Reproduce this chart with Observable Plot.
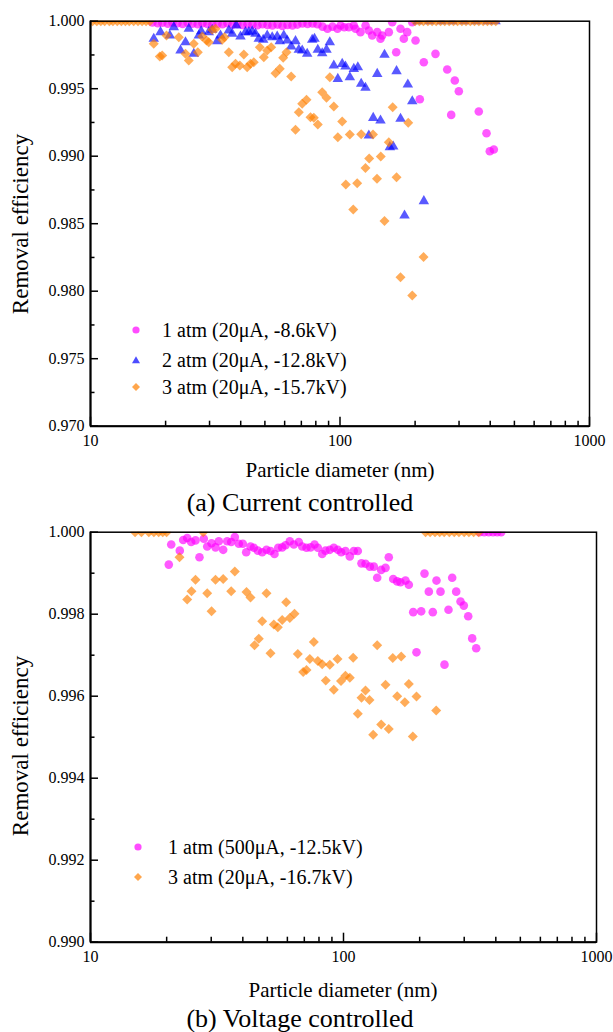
<!DOCTYPE html>
<html><head><meta charset="utf-8">
<script src="https://cdn.jsdelivr.net/npm/d3@7"></script>
<script src="https://cdn.jsdelivr.net/npm/@observablehq/plot@0.6"></script>
<style>
body{margin:0;background:#fff;font-family:'Liberation Serif','Tinos','Times New Roman','DejaVu Serif',serif;color:#000}
#wrap{position:relative;width:613px;height:1032px;overflow:hidden;background:#fff}
#wrap, #wrap *{font-family:'Liberation Serif','Tinos','Times New Roman','DejaVu Serif',serif}
.abs{position:absolute;white-space:nowrap;line-height:1}
.c{transform:translate(-50%,-50%)}
.rot{transform:translate(-50%,-50%) rotate(-90deg)}
.leg{position:absolute;white-space:nowrap;line-height:1;font-size:20px;transform:translateY(-50%)}
.mk{position:absolute;transform:translate(-50%,-50%)}
</style></head><body><div id="wrap"></div>
<script>
// ---------- tick values ----------
const xMajor = [10, 100, 1000];
const xMinor = [20,30,40,50,60,70,80,90,200,300,400,500,600,700,800,900];
const yMajorA = [0.970,0.975,0.980,0.985,0.990,0.995,1.000];
const yMinorA = [0.9725,0.9775,0.9825,0.9875,0.9925,0.9975];
const yMajorB = [0.990,0.992,0.994,0.996,0.998,1.000];
const yMinorB = [0.991,0.993,0.995,0.997,0.999];

// ---------- labels ----------
const legendA = ["1 atm (20μA, -8.6kV)", "2 atm (20μA, -12.8kV)", "3 atm (20μA, -15.7kV)"];
const legendB = ["1 atm (500μA, -12.5kV)", "3 atm (20μA, -16.7kV)"];
const xTitle = "Particle diameter (nm)";
const yTitle = "Removal efficiency";
const captionA = "(a) Current controlled";
const captionB = "(b) Voltage controlled";

// ---------- data: [diameter nm, removal efficiency] ----------
const a1atm = [[17.7,0.99990],[18.6,0.99985],[19.4,0.99988],[20.4,0.99982],[21.3,0.99990],[22.3,0.99985],[23.4,0.99980],[24.5,0.99988],[25.6,0.99982],[26.9,0.99978],[28.1,0.99985],[29.4,0.99980],[30.8,0.99975],[32.3,0.99982],[33.8,0.99978],[35.4,0.99985],[37.1,0.99975],[38.8,0.99980],[40.7,0.99972],[42.6,0.99978],[44.6,0.99975],[46.7,0.99970],[48.9,0.99978],[51.2,0.99972],[53.6,0.99968],[56.2,0.99975],[58.8,0.99965],[61.6,0.99972],[64.5,0.99968],[67.5,0.99975],[70.7,0.99983],[74.1,0.99980],[77.6,0.99983],[81.2,0.99978],[85.1,0.99960],[89.1,0.99944],[93.3,0.99960],[97.7,0.99944],[100.5,0.99968],[104.0,0.99955],[108.5,0.99956],[113.6,0.99968],[115.4,0.99944],[120.8,0.99919],[126.6,0.99968],[130.5,0.99931],[134.6,0.99894],[141.0,0.99919],[145.3,0.99870],[147.6,0.99894],[156.9,0.99919],[161.9,0.99993],[168.0,0.99770],[174.8,0.99944],[180.2,0.99870],[185.9,0.99919],[194.8,0.99993],[200.8,0.99857],[208.9,0.99422],[216.7,0.99696],[241.4,0.99758],[269.0,0.99642],[279.1,0.99306],[288.5,0.99561],[299.4,0.99481],[360.0,0.99331],[386.6,0.99170],[398.5,0.99037],[413.5,0.99050]];

const a2atm = [[17.93,0.99870],[19.08,0.99919],[20.79,0.99894],[21.57,0.99956],[22.95,0.99783],[24.03,0.99844],[24.77,0.99944],[25.94,0.99759],[27.18,0.99894],[27.78,0.99926],[29.79,0.99919],[30.75,0.99936],[32.20,0.99852],[33.19,0.99894],[35.84,0.99931],[36.98,0.99907],[38.37,0.99968],[39.92,0.99887],[41.80,0.99919],[43.10,0.99919],[44.47,0.99926],[45.85,0.99907],[47.26,0.99870],[49.22,0.99862],[51.08,0.99894],[53.49,0.99881],[56.01,0.99887],[57.37,0.99852],[59.53,0.99894],[61.43,0.99857],[63.74,0.99813],[66.31,0.99852],[68.37,0.99788],[70.55,0.99783],[73.87,0.99759],[77.37,0.99862],[79.03,0.99870],[81.47,0.99788],[84.86,0.99763],[88.28,0.99788],[91.02,0.99844],[94.45,0.99672],[98.0,0.99573],[102.05,0.99684],[105.2,0.99664],[109.5,0.99585],[113.6,0.99647],[117.9,0.99659],[121.6,0.99536],[126.5,0.99507],[130.5,0.99153],[135.9,0.99284],[141.0,0.99610],[145.3,0.99264],[150.8,0.99751],[158.4,0.99067],[163.4,0.99072],[168.5,0.99630],[174.8,0.99277],[181.4,0.98561],[187.0,0.99531],[194.8,0.99407],[216.8,0.98667],[205,1],[228,1],[255,1],[282,1],[315,1],[350,1],[390,1],[420,1]];

const a3atm = [[10.2,1],[10.6,1],[11.0,1],[11.4,1],[11.9,1],[12.3,1],[12.8,1],[13.3,1],[13.8,1],[14.3,1],[14.9,1],[15.5,1],[16.1,1],[16.7,1],[17.3,1],[17.93,0.99833],[18.96,0.99739],[19.38,0.99746],[20.17,0.99894],[22.59,0.99881],[24.03,0.99759],[24.77,0.99709],[25.94,0.99833],[26.92,0.99770],[28.04,0.99887],[29.17,0.99857],[29.79,0.99844],[30.75,0.99936],[31.70,0.99944],[33.72,0.99862],[34.44,0.99881],[35.84,0.99770],[36.98,0.99659],[38.13,0.99684],[39.67,0.99672],[41.16,0.99753],[42.47,0.99659],[43.78,0.99684],[45.13,0.99696],[47.71,0.99807],[49.50,0.99733],[51.08,0.99783],[52.99,0.99807],[55.15,0.99615],[57.37,0.99647],[59.20,0.99729],[61.04,0.99770],[63.74,0.99590],[66.31,0.99196],[68.37,0.99326],[70.55,0.99388],[73.40,0.99418],[76.18,0.99289],[78.52,0.99284],[81.47,0.99235],[84.86,0.99474],[88.28,0.99433],[91.02,0.99585],[94.45,0.99368],[98.0,0.99141],[102.05,0.99257],[105.5,0.98790],[109.5,0.99161],[113.0,0.98605],[117.2,0.98800],[121.6,0.99163],[126.5,0.98913],[130.9,0.98983],[135.6,0.99161],[140.7,0.98833],[145.7,0.98998],[150.8,0.98520],[156.9,0.99104],[162.6,0.99363],[168.5,0.98844],[174.8,0.98104],[187.7,0.99247],[194.8,0.97968],[216.2,0.98253],[200,1],[208,1],[216,1],[225,1],[234,1],[243,1],[253,1],[263,1],[274,1],[285,1],[296,1],[308,1],[320,1],[333,1],[346,1],[360,1],[375,1],[390,1],[405,1],[421,1]];

const b1atm = [[20.39,0.99921],[20.85,0.99970],[22.54,0.99955],[23.25,0.99981],[24.11,0.99986],[25.00,0.99976],[26.00,0.99980],[26.96,0.99939],[28.04,0.99984],[28.93,0.99965],[30.09,0.99973],[31.20,0.99963],[32.15,0.99978],[33.46,0.99957],[34.70,0.99978],[35.99,0.99976],[37.19,0.99988],[38.57,0.99972],[40.00,0.99972],[41.25,0.99951],[42.90,0.99965],[44.21,0.99962],[45.85,0.99955],[47.72,0.99951],[49.62,0.99957],[51.46,0.99954],[53.37,0.99947],[55.20,0.99962],[57.24,0.99963],[59.00,0.99968],[61.34,0.99978],[63.63,0.99970],[66.58,0.99976],[68.68,0.99965],[71.42,0.99962],[74.07,0.99963],[76.81,0.99970],[79.15,0.99962],[82.38,0.99947],[84.90,0.99955],[88.27,0.99957],[91.55,0.99962],[94.94,0.99957],[97.93,0.99951],[101.8,0.99954],[105.9,0.99941],[109.8,0.99954],[113.9,0.99954],[117.8,0.99924],[122.2,0.99923],[127.1,0.99916],[131.8,0.99916],[135.9,0.99889],[140.9,0.99908],[146.6,0.99913],[151.0,0.99939],[157.2,0.99886],[163.0,0.99880],[168.0,0.99878],[175.8,0.99882],[181.2,0.99872],[188.6,0.99805],[194.3,0.99707],[202.8,0.99807],[209.0,0.99899],[217.4,0.99855],[225.4,0.99805],[233.1,0.99882],[241.8,0.99855],[250.7,0.99677],[260.0,0.99811],[268.9,0.99889],[278.9,0.99855],[290.1,0.99831],[298.9,0.99821],[311.1,0.99795],[322.6,0.99741],[334.6,0.99717],[345,1],[360,1],[375,1],[390,1],[405,1],[420,1]];

const b3atm = [[15.0,1],[15.9,1],[17.0,1],[17.8,1],[18.6,1],[19.3,1],[20.0,1],[27.9,1],[22.48,0.99939],[24.11,0.99836],[25.07,0.99856],[26.00,0.99884],[28.93,0.99851],[30.09,0.99807],[31.20,0.99884],[33.46,0.99886],[35.99,0.99856],[37.19,0.99904],[41.37,0.99854],[42.90,0.99841],[44.48,0.99724],[46.26,0.99740],[47.72,0.99783],[49.62,0.99851],[51.46,0.99705],[53.03,0.99775],[55.00,0.99768],[57.24,0.99786],[59.37,0.99829],[61.34,0.99791],[64.02,0.99801],[65.98,0.99703],[69.30,0.99659],[71.42,0.99664],[73.60,0.99691],[76.32,0.99732],[79.15,0.99686],[82.38,0.99678],[85.11,0.99638],[88.27,0.99677],[91.55,0.99616],[94.68,0.99691],[97.75,0.99637],[101.8,0.99650],[105.9,0.99645],[109.2,0.99694],[113.9,0.99557],[117.8,0.99596],[122.2,0.99614],[126.7,0.99591],[131.0,0.99506],[135.9,0.99724],[140.9,0.99531],[146.6,0.99628],[151.0,0.99520],[156.6,0.99693],[163.0,0.99600],[169.1,0.99697],[174.7,0.99585],[181.2,0.99630],[187.9,0.99502],[194.3,0.99599],[232.5,0.99565],[211,1],[220,1],[230,1],[240,1],[250,1],[262,1],[274,1],[286,1],[300,1],[313,1],[327,1],[342,1]];

// ---------- styles ----------
const FONT = "'Liberation Serif','Tinos','Times New Roman','DejaVu Serif',serif";
const MAGENTA = "#ff00ff", BLUE = "#0000ff", ORANGE = "#ff8000";
const OPA = 0.65;

function panel(o) {
  const fmt = d3.format(".3f");
  const marks = [];
  for (const s of o.series) {
    marks.push(Plot.dot(s.data, {x: d => d[0], y: d => d[1], symbol: s.symbol, r: s.r,
      fill: s.color, fillOpacity: OPA, stroke: "none", clip: true}));
  }
  marks.push(
    Plot.frame({stroke: "#000", strokeWidth: 1.5}),
    Plot.ruleX([10], {stroke: "#000", strokeWidth: 2}),
    Plot.ruleY([o.yDomain[0]], {stroke: "#000", strokeWidth: 2}),
    Plot.axisY({ticks: o.yMajor, tickSize: -8, tickFormat: () => "", label: null, strokeWidth: 1.5}),
    Plot.axisY({ticks: o.yMinor, tickSize: -4.5, tickFormat: () => "", label: null, strokeWidth: 1.5}),
    Plot.axisY({ticks: o.yMajor, tickSize: 0, tickPadding: 6, tickFormat: fmt, label: null, fontSize: 16, fontFamily: FONT}),
    Plot.axisX({ticks: xMajor, tickSize: -9, tickFormat: () => "", label: null, strokeWidth: 1.5}),
    Plot.axisX({ticks: xMinor, tickSize: -5, tickFormat: () => "", label: null, strokeWidth: 1.5}),
    Plot.axisX({ticks: xMajor, tickSize: 0, tickPadding: 8, tickFormat: d => String(d), label: null, fontSize: 16, fontFamily: FONT})
  );
  return Plot.plot({
    width: 613, height: o.height,
    marginTop: o.mt, marginBottom: o.mb, marginLeft: 90, marginRight: o.mr,
    style: {fontFamily: FONT, fontSize: "16px", color: "#000", background: "transparent", overflow: "visible"},
    x: {type: "log", domain: [10, 1000]},
    y: {domain: o.yDomain},
    marks
  });
}

const wrap = document.getElementById("wrap");
function place(el, top) { el.style.position = "absolute"; el.style.left = "0px"; el.style.top = top + "px"; wrap.appendChild(el); }

const svgA = panel({height: 484, mt: 20.7, mb: 58.3, mr: 24, yDomain: [0.970, 1.000], yMajor: yMajorA, yMinor: yMinorA,
  series: [
    {data: a1atm, symbol: "circle", r: 4.3, color: MAGENTA},
    {data: a2atm, symbol: "triangle", r: 3.9, color: BLUE},
    {data: a3atm, symbol: "diamond2", r: 4.5, color: ORANGE}
  ]});
place(svgA, 0);

const svgB = panel({height: 486, mt: 17.7, mb: 58.3, mr: 17, yDomain: [0.990, 1.000], yMajor: yMajorB, yMinor: yMinorB,
  series: [
    {data: b1atm, symbol: "circle", r: 4.3, color: MAGENTA},
    {data: b3atm, symbol: "diamond2", r: 4.5, color: ORANGE}
  ]});
place(svgB, 514);

function addText(txt, x, y, size, cls) {
  const d = document.createElement("div");
  d.className = "abs " + cls;
  d.style.left = x + "px"; d.style.top = y + "px"; d.style.fontSize = size + "px";
  d.textContent = txt;
  wrap.appendChild(d);
}
addText(yTitle, 20, 224, 23, "rot");
addText(xTitle, 340, 470, 21, "c");
addText(captionA, 300, 503, 26, "c");
addText(yTitle, 20, 746, 23, "rot");
addText(xTitle, 343, 990, 21, "c");
addText(captionB, 300, 1019, 26, "c");

const shapes = {
  circle: c => `<circle cx="6" cy="6" r="3.6" fill="${c}" fill-opacity="0.7"/>`,
  triangle: c => `<path d="M6,2.2L10,9.2L2,9.2Z" fill="${c}" fill-opacity="0.7"/>`,
  diamond: c => `<path d="M6,2L10,6L6,10L2,6Z" fill="${c}" fill-opacity="0.7"/>`
};
function addLegend(items, mx, tx, ys) {
  items.forEach((it, i) => {
    const m = document.createElement("div");
    m.className = "mk"; m.style.left = mx + "px"; m.style.top = ys[i] + "px";
    m.innerHTML = `<svg width="12" height="12" style="display:block">${shapes[it.shape](it.color)}</svg>`;
    wrap.appendChild(m);
    const t = document.createElement("div");
    t.className = "leg"; t.style.left = tx + "px"; t.style.top = ys[i] + "px";
    t.textContent = it.label;
    wrap.appendChild(t);
  });
}
addLegend([
  {label: legendA[0], shape: "circle", color: MAGENTA},
  {label: legendA[1], shape: "triangle", color: BLUE},
  {label: legendA[2], shape: "diamond", color: ORANGE}
], 135.5, 162, [330, 360, 387]);
addLegend([
  {label: legendB[0], shape: "circle", color: MAGENTA},
  {label: legendB[1], shape: "diamond", color: ORANGE}
], 137.5, 168, [847, 877]);
</script></body></html>
